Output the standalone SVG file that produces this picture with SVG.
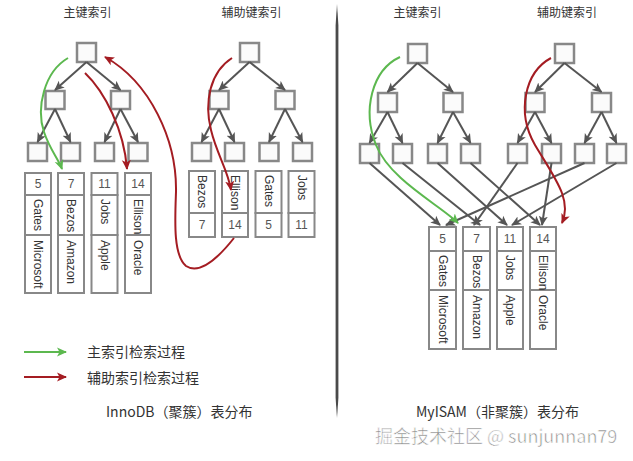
<svg xmlns="http://www.w3.org/2000/svg" width="633" height="461" viewBox="0 0 633 461">
<style>
.box{fill:#fbfbfb;stroke:#888;stroke-width:2.5}
.cell{fill:#fff;stroke:#888;stroke-width:2}
.e{stroke:#555;stroke-width:2;fill:none;marker-end:url(#mg)}
.gr{stroke:#5cb84f;stroke-width:2;fill:none;marker-end:url(#mgr)}
.rd{stroke:#a41c22;stroke-width:2;fill:none;marker-end:url(#mrd)}
.t{font-family:"Noto Sans CJK SC","Liberation Sans",sans-serif;fill:#333}
.n{font-family:"Liberation Sans",sans-serif;font-size:12px;fill:#555;text-anchor:middle}
.v{font-family:"Liberation Sans",sans-serif;font-size:12px;fill:#333;dominant-baseline:central}
</style>
<defs>
<marker id="mg" markerUnits="userSpaceOnUse" markerWidth="10" markerHeight="10" refX="9" refY="5" orient="auto"><path d="M0,0.5 L10,5 L0,9.5 L2.5,5 z" fill="#555"/></marker>
<marker id="mgr" markerUnits="userSpaceOnUse" markerWidth="10" markerHeight="10" refX="9" refY="5" orient="auto"><path d="M0,0.5 L10,5 L0,9.5 L2.5,5 z" fill="#5cb84f"/></marker>
<marker id="mrd" markerUnits="userSpaceOnUse" markerWidth="10" markerHeight="10" refX="9" refY="5" orient="auto"><path d="M0,0.5 L10,5 L0,9.5 L2.5,5 z" fill="#a41c22"/></marker>
</defs>
<rect width="633" height="461" fill="#fff"/>

<!-- titles -->
<g id="titles" class="t" font-size="12" text-anchor="middle">
<text x="87.5" y="17">主键索引</text>
<text x="251.5" y="17">辅助键索引</text>
<text x="417.5" y="17">主键索引</text>
<text x="567" y="17">辅助键索引</text>
</g>

<!-- divider -->
<path id="divider" d="M337,4 L338.4,25 L338.4,398 L337,418 L335.6,398 L335.6,25 Z" fill="#4a4a4a"/>

<!-- tree nodes -->
<g id="left-primary-tree">
<rect class="box" x="77" y="43" width="19" height="19"/>
<rect class="box" x="45.5" y="91" width="19" height="18"/>
<rect class="box" x="111" y="91" width="19" height="18"/>
<rect class="box" x="28" y="143" width="19" height="18"/>
<rect class="box" x="61" y="143" width="19" height="18"/>
<rect class="box" x="95" y="143" width="19" height="18"/>
<rect class="box" x="128.5" y="143" width="19" height="18"/>
</g>
<g id="left-secondary-tree">
<rect class="box" x="240" y="43" width="19" height="19"/>
<rect class="box" x="209.5" y="91" width="19" height="18"/>
<rect class="box" x="275.5" y="91" width="19" height="18"/>
<rect class="box" x="192" y="143" width="19" height="18"/>
<rect class="box" x="225" y="143" width="19" height="18"/>
<rect class="box" x="259.5" y="143" width="19" height="18"/>
<rect class="box" x="293" y="143" width="19" height="18"/>
</g>
<g id="right-primary-tree">
<rect class="box" x="408" y="44" width="19" height="19"/>
<rect class="box" x="378" y="93" width="19" height="19"/>
<rect class="box" x="443.5" y="93" width="19" height="19"/>
<rect class="box" x="360" y="144" width="19" height="19"/>
<rect class="box" x="393" y="144" width="19" height="19"/>
<rect class="box" x="428" y="144" width="19" height="19"/>
<rect class="box" x="461" y="144" width="19" height="19"/>
</g>
<g id="right-secondary-tree">
<rect class="box" x="555" y="44" width="19" height="19"/>
<rect class="box" x="525.5" y="93" width="19" height="19"/>
<rect class="box" x="592" y="93" width="19" height="19"/>
<rect class="box" x="508" y="144" width="19" height="19"/>
<rect class="box" x="542" y="144" width="19" height="19"/>
<rect class="box" x="575" y="144" width="19" height="19"/>
<rect class="box" x="607" y="144" width="19" height="19"/>
</g>

<!-- InnoDB clustered records -->
<g id="inno-rec-5">
<rect class="cell" x="25" y="173" width="26" height="22"/><rect class="cell" x="25" y="195" width="26" height="40"/><rect class="cell" x="25" y="235" width="26" height="58"/>
<text class="n" x="38" y="188">5</text>
<text class="v" transform="translate(38,199) rotate(90)">Gates</text>
<text class="v" transform="translate(38,240) rotate(90)">Microsoft</text>
</g>
<g id="inno-rec-7">
<rect class="cell" x="58" y="173" width="26" height="22"/><rect class="cell" x="58" y="195" width="26" height="40"/><rect class="cell" x="58" y="235" width="26" height="58"/>
<text class="n" x="71" y="188">7</text>
<text class="v" transform="translate(71,199) rotate(90)">Bezos</text>
<text class="v" transform="translate(71,240) rotate(90)">Amazon</text>
</g>
<g id="inno-rec-11">
<rect class="cell" x="91.5" y="173" width="26" height="22"/><rect class="cell" x="91.5" y="195" width="26" height="40"/><rect class="cell" x="91.5" y="235" width="26" height="58"/>
<text class="n" x="104.5" y="188">11</text>
<text class="v" transform="translate(104.5,199) rotate(90)">Jobs</text>
<text class="v" transform="translate(104.5,240) rotate(90)">Apple</text>
</g>
<g id="inno-rec-14">
<rect class="cell" x="125" y="173" width="26" height="22"/><rect class="cell" x="125" y="195" width="26" height="40"/><rect class="cell" x="125" y="235" width="26" height="58"/>
<text class="n" x="138" y="188">14</text>
<text class="v" transform="translate(138,199) rotate(90)">Ellison</text>
<text class="v" transform="translate(138,240) rotate(90)">Oracle</text>
</g>

<!-- InnoDB secondary leaf records -->
<g id="sec-rec-bezos">
<rect class="cell" x="189" y="171" width="26" height="42"/><rect class="cell" x="189" y="213" width="26" height="24"/>
<text class="v" transform="translate(202,175) rotate(90)">Bezos</text>
<text class="n" x="202" y="229">7</text>
</g>
<g id="sec-rec-ellison">
<rect class="cell" x="222" y="171" width="26" height="42"/><rect class="cell" x="222" y="213" width="26" height="24"/>
<text class="v" transform="translate(235,175) rotate(90)">Ellison</text>
<text class="n" x="235" y="229">14</text>
</g>
<g id="sec-rec-gates">
<rect class="cell" x="255.5" y="171" width="26" height="42"/><rect class="cell" x="255.5" y="213" width="26" height="24"/>
<text class="v" transform="translate(268.5,175) rotate(90)">Gates</text>
<text class="n" x="268.5" y="229">5</text>
</g>
<g id="sec-rec-jobs">
<rect class="cell" x="288.5" y="171" width="26" height="42"/><rect class="cell" x="288.5" y="213" width="26" height="24"/>
<text class="v" transform="translate(301.5,175) rotate(90)">Jobs</text>
<text class="n" x="301.5" y="229">11</text>
</g>

<!-- MyISAM records -->
<g id="my-rec-5">
<rect class="cell" x="429" y="227" width="27" height="24"/><rect class="cell" x="429" y="251" width="27" height="39"/><rect class="cell" x="429" y="290" width="27" height="59"/>
<text class="n" x="442.5" y="243">5</text>
<text class="v" transform="translate(442.5,255) rotate(90)">Gates</text>
<text class="v" transform="translate(442.5,295) rotate(90)">Microsoft</text>
</g>
<g id="my-rec-7">
<rect class="cell" x="463" y="227" width="27" height="24"/><rect class="cell" x="463" y="251" width="27" height="39"/><rect class="cell" x="463" y="290" width="27" height="59"/>
<text class="n" x="476.5" y="243">7</text>
<text class="v" transform="translate(476.5,255) rotate(90)">Bezos</text>
<text class="v" transform="translate(476.5,295) rotate(90)">Amazon</text>
</g>
<g id="my-rec-11">
<rect class="cell" x="497" y="227" width="26" height="24"/><rect class="cell" x="497" y="251" width="26" height="39"/><rect class="cell" x="497" y="290" width="26" height="59"/>
<text class="n" x="510" y="243">11</text>
<text class="v" transform="translate(510,255) rotate(90)">Jobs</text>
<text class="v" transform="translate(510,295) rotate(90)">Apple</text>
</g>
<g id="my-rec-14">
<rect class="cell" x="530" y="227" width="26" height="24"/><rect class="cell" x="530" y="251" width="26" height="39"/><rect class="cell" x="530" y="290" width="26" height="59"/>
<text class="n" x="543" y="243">14</text>
<text class="v" transform="translate(543,255) rotate(90)">Ellison</text>
<text class="v" transform="translate(543,295) rotate(90)">Oracle</text>
</g>

<!-- connectors -->
<g id="connectors">
<!-- left primary tree -->
<line class="e" x1="86.5" y1="62" x2="55" y2="90"/>
<line class="e" x1="86.5" y1="62" x2="120.5" y2="90"/>
<line class="e" x1="55" y1="109" x2="37.5" y2="142"/>
<line class="e" x1="55" y1="109" x2="70.5" y2="142"/>
<line class="e" x1="120.5" y1="109" x2="104.5" y2="142"/>
<line class="e" x1="120.5" y1="109" x2="138" y2="142"/>
<!-- left secondary tree -->
<line class="e" x1="249.5" y1="62" x2="219" y2="90"/>
<line class="e" x1="249.5" y1="62" x2="285" y2="90"/>
<line class="e" x1="219" y1="109" x2="201.5" y2="142"/>
<line class="e" x1="219" y1="109" x2="234.5" y2="142"/>
<line class="e" x1="285" y1="109" x2="269" y2="142"/>
<line class="e" x1="285" y1="109" x2="302.5" y2="142"/>
<!-- right primary tree -->
<line class="e" x1="417.5" y1="63" x2="387.5" y2="92"/>
<line class="e" x1="417.5" y1="63" x2="453" y2="92"/>
<line class="e" x1="387.5" y1="112" x2="369.5" y2="143"/>
<line class="e" x1="387.5" y1="112" x2="402.5" y2="143"/>
<line class="e" x1="453" y1="112" x2="437.5" y2="143"/>
<line class="e" x1="453" y1="112" x2="470.5" y2="143"/>
<!-- right secondary tree -->
<line class="e" x1="564.5" y1="63" x2="535" y2="92"/>
<line class="e" x1="564.5" y1="63" x2="601.5" y2="92"/>
<line class="e" x1="535" y1="112" x2="517.5" y2="143"/>
<line class="e" x1="535" y1="112" x2="551.5" y2="143"/>
<line class="e" x1="601.5" y1="112" x2="584.5" y2="143"/>
<line class="e" x1="601.5" y1="112" x2="616.5" y2="143"/>
<!-- right leaves to records -->
<line class="e" x1="369.5" y1="163" x2="440" y2="225"/>
<line class="e" x1="402.5" y1="163" x2="480" y2="225"/>
<line class="e" x1="437.5" y1="163" x2="507" y2="225"/>
<line class="e" x1="470.5" y1="163" x2="540" y2="225"/>
<line class="e" x1="517.5" y1="163" x2="474" y2="225"/>
<line class="e" x1="551.5" y1="163" x2="542" y2="225"/>
<line class="e" x1="584.5" y1="163" x2="446" y2="225"/>
<line class="e" x1="616.5" y1="163" x2="512" y2="225"/>
<!-- search paths -->
<path class="gr" d="M68,58 C44,72 36,108 44,132 C50,150 58,158 62,169"/>
<path class="rd" d="M85,73 C105,92 124,130 127,169"/>
<path class="rd" d="M234,238 C215,262 198,274 186,266 C173,255 175,220 176,192 C177,140 150,82 105,57"/>
<path class="rd" d="M232,58 C210,72 204,102 211,130 C217,155 228,170 231,190"/>
<path class="gr" d="M400,57 C372,70 362,110 376,145 C390,180 440,205 458,223"/>
<path class="rd" d="M551,58 C525,72 516,112 535,145 C556,180 572,200 562,223"/>
<!-- legend -->
<line class="gr" x1="24" y1="352" x2="66" y2="352"/>
<line class="rd" x1="24" y1="377" x2="66" y2="377"/>
</g>

<!-- legend & captions -->
<g id="legend" class="t" font-size="14">
<text x="87" y="357">主索引检索过程</text>
<text x="87" y="383">辅助索引检索过程</text>
</g>
<g id="captions" class="t" font-size="14">
<text x="106" y="417">InnoDB（聚簇）表分布</text>
<text x="416" y="417">MyISAM（非聚簇）表分布</text>
</g>
<text id="watermark" x="375" y="443" font-family="Noto Sans CJK SC,Liberation Sans,sans-serif" font-size="18" fill="#8a8a8a" stroke="#fff" stroke-width="0.6">掘金技术社区 @ sunjunnan79</text>
</svg>
